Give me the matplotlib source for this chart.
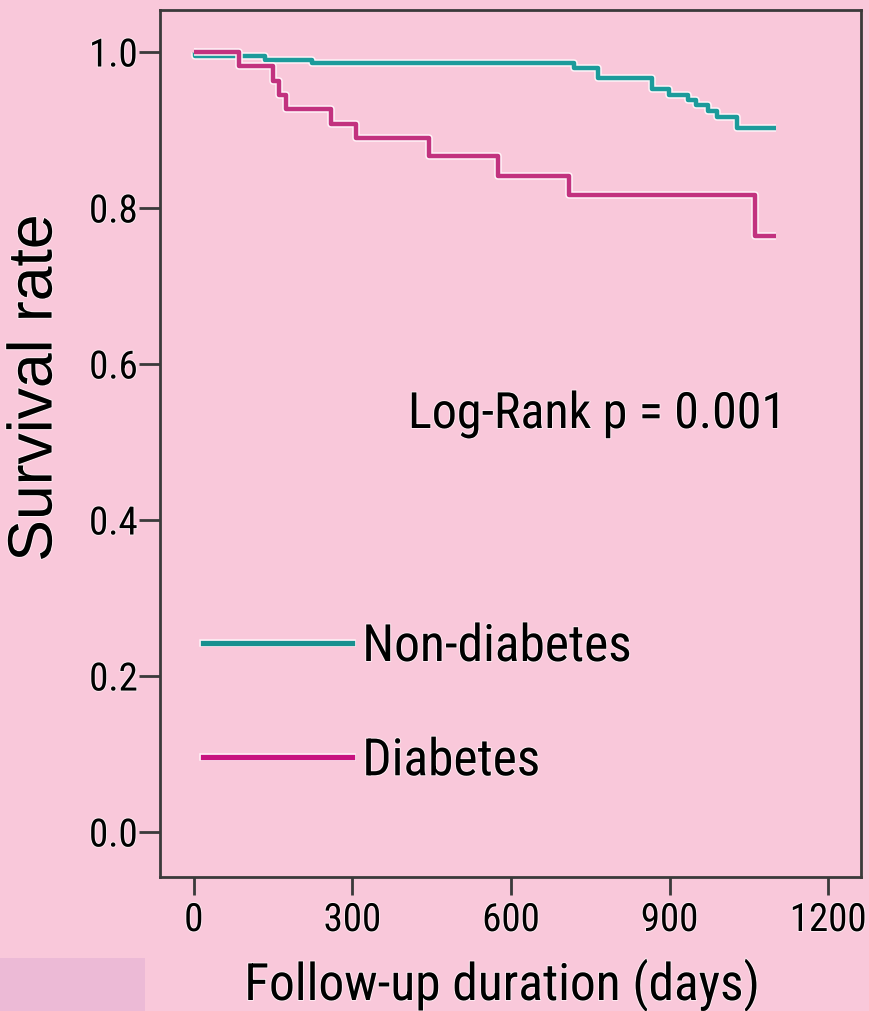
import matplotlib
matplotlib.use("Agg")
import matplotlib.pyplot as plt
import matplotlib.patheffects as pe
from matplotlib.patches import Rectangle
from matplotlib.lines import Line2D
from matplotlib import font_manager as fm

# ---- data ----
nd_days = [0, 2, 135, 224, 720, 764, 866, 898, 934, 949, 972, 989, 1027, 1101]
nd_surv = [1.0, 0.995, 0.990, 0.986, 0.980, 0.966, 0.952, 0.945, 0.938, 0.932, 0.924, 0.917, 0.902, 0.902]
d_days = [0, 85, 150, 161, 174, 260, 307, 445, 576, 709, 1061, 1101]
d_surv = [1.0, 0.982, 0.963, 0.945, 0.927, 0.908, 0.890, 0.866, 0.841, 0.816, 0.764, 0.764]
series_labels = ["Non-diabetes", "Diabetes"]
x_ticks = [0, 300, 600, 900, 1200]
y_ticks = [0.0, 0.2, 0.4, 0.6, 0.8, 1.0]
annotation = "Log-Rank p = 0.001"
x_label = "Follow-up duration (days)"
y_label = "Survival rate"

BG = "#F9C8DA"
TEAL = "#1C9B9B"
MAG = "#C2327F"
LEG_TEAL = "#17908F"
LEG_MAG = "#C8127F"

available = {f.name for f in fm.fontManager.ttflist}
narrow_prefs = ["Liberation Sans Narrow", "Arial Narrow", "Nimbus Sans Narrow",
                "Roboto Condensed", "Pragati Narrow", "PT Sans Narrow", "Archivo Narrow"]
narrow = next((n for n in narrow_prefs if n in available), "Liberation Sans")
NARROW = [narrow, "Liberation Sans", "DejaVu Sans"]
NORMAL = ["Liberation Sans", "DejaVu Sans"]

plt.rcParams["font.family"] = NARROW

W, H = 869, 1011
fig = plt.figure(figsize=(W / 100, H / 100), dpi=100)
fig.patch.set_facecolor(BG)
fig.patches.append(Rectangle((0, 0), 145 / W, 53 / H, transform=fig.transFigure,
                             facecolor="#ECBAD6", edgecolor="none", zorder=0))

L, R, T, B = 160, 861, 10, 877
ax = fig.add_axes([L / W, (H - B) / H, (R - L) / W, (B - T) / H])
ax.set_facecolor(BG)

halo = [pe.Stroke(linewidth=5.4, foreground="#FFF3F8"), pe.Normal()]
ax.step(nd_days, nd_surv, where="post", color=TEAL, lw=3.2, solid_capstyle="butt",
        path_effects=halo, zorder=3)
ax.step(d_days, d_surv, where="post", color=MAG, lw=3.2, solid_capstyle="butt",
        path_effects=halo, zorder=3)

ax.set_xlim(-64, 1262)
ax.set_ylim(-0.0577, 1.0538)
ax.set_xticks(x_ticks)
ax.set_yticks(y_ticks)
ax.set_xticklabels([str(v) for v in x_ticks])
ax.set_yticklabels([f"{v:.1f}" for v in y_ticks])

for s in ax.spines.values():
    s.set_linewidth(2.0)
    s.set_color("#3a3a3a")
ax.tick_params(axis="y", length=15, width=2.0, color="#3a3a3a", pad=1, labelsize=28)
ax.tick_params(axis="x", length=13, width=2.0, color="#3a3a3a", pad=5, labelsize=28)
txt_halo = [pe.withStroke(linewidth=1.5, foreground="white", alpha=0.6)]
for lab in ax.get_xticklabels() + ax.get_yticklabels():
    lab.set_path_effects(txt_halo)

handles = [Line2D([], [], color=LEG_TEAL, lw=3.8, path_effects=halo),
           Line2D([], [], color=LEG_MAG, lw=3.8, path_effects=halo)]
leg = ax.legend(handles, series_labels, loc="upper left",
                bbox_to_anchor=((203 - L) / (R - L), (B - 622) / (B - T)),
                frameon=False, fontsize=37, handlelength=2.9, handletextpad=0.2,
                labelspacing=1.25, borderpad=0, borderaxespad=0)
for t in leg.get_texts():
    t.set_path_effects(txt_halo)

fig.text(408 / W, 1 - 428 / H, annotation, ha="left", va="baseline", fontsize=36,
         path_effects=txt_halo)
fig.text(502 / W, 1 - 1000 / H, x_label, ha="center", va="baseline", fontsize=37,
         path_effects=txt_halo)
fig.text(35 / W, 1 - 388 / H, y_label, ha="center", va="center", rotation=90,
         fontsize=45, family=NORMAL, path_effects=txt_halo)

fig.savefig("out.png", dpi=100, facecolor=fig.get_facecolor())
